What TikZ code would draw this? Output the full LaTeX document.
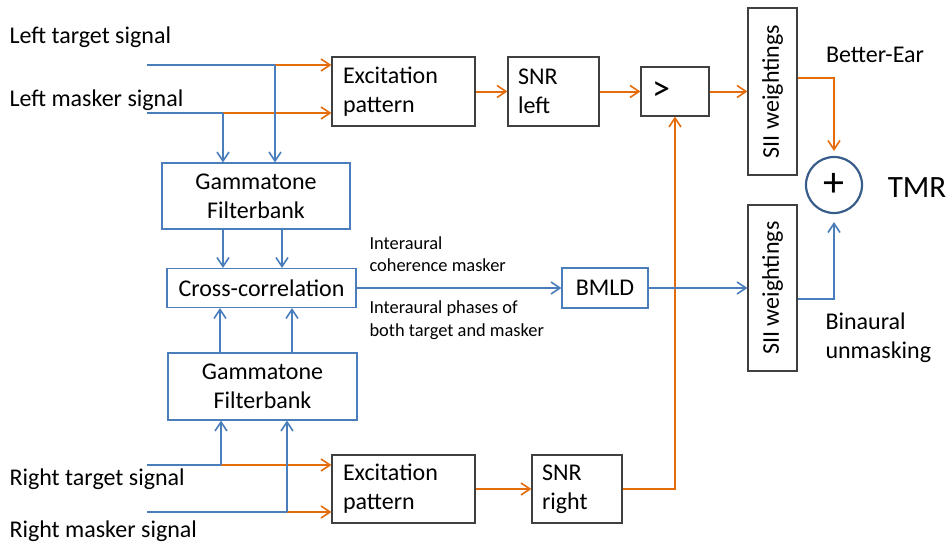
\documentclass[tikz,border=0pt]{standalone}
\usepackage{fontspec}
\setmainfont{Carlito}
\usepackage{tikz}
\usetikzlibrary{arrows.meta,calc}

\definecolor{lineblue}{HTML}{4A7EBB}
\definecolor{lineorange}{HTML}{E46C0A}
\definecolor{ringblue}{HTML}{385D8A}
\definecolor{boxgray}{HTML}{404040}

\newcommand{\bigtxt}{\fontsize{24}{29}\selectfont}
\newcommand{\smalltxt}{\fontsize{18.4}{22.5}\selectfont}

\tikzset{
	graybox/.style={draw=boxgray, line width=1.2pt, inner sep=0pt, font=\bigtxt},
	bluebox/.style={draw=lineblue, line width=1.2pt, inner sep=0pt, font=\bigtxt, align=center},
	sig/.style={draw=lineblue, line width=2pt},
	ora/.style={draw=lineorange, line width=2pt},
	>={Straight Barb[length=9pt,width=12pt,line width=1.6pt]}
}

\begin{document}
\begin{tikzpicture}[x=1pt, y=-1pt]
		\useasboundingbox (0,0) rectangle (948,544);

		% input labels
		\node[anchor=west, font=\bigtxt] (ltlabel) at (6,37) {Left target signal};
		\node[anchor=west, font=\bigtxt] (lmlabel) at (6,100) {Left masker signal};
		\node[anchor=west, font=\bigtxt] (rtlabel) at (6,479) {Right target signal};
		\node[anchor=west, font=\bigtxt] (rmlabel) at (6,531) {Right masker signal};

		% left ear path
		\node[graybox, text width=121pt, inner xsep=11pt, minimum height=69pt, align=left] (exc1) at (403.5,91.5) {Excitation\\pattern};
		\node[graybox, text width=71pt, inner xsep=10pt, minimum height=69pt, align=left] (snrl) at (553.5,91.5) {SNR\\left};
		\node[graybox, text width=46pt, inner xsep=11pt, minimum height=49pt, align=left, font=\fontsize{36}{36}\selectfont] (gt) at (675,91.5) {>};

		% right ear path
		\node[graybox, text width=121pt, inner xsep=11pt, minimum height=68pt, align=left] (exc2) at (403.5,489) {Excitation\\pattern};
		\node[graybox, text width=70pt, inner xsep=10pt, minimum height=68pt, align=left] (snrr) at (577,489) {SNR\\right};

		% binaural path
		\node[bluebox, minimum width=188pt, minimum height=66pt] (gam1) at (256,196) {Gammatone\\Filterbank};
		\node[bluebox, minimum width=189pt, minimum height=39pt] (cc) at (261.5,288) {Cross-correlation};
		\node[bluebox, minimum width=189pt, minimum height=67pt] (gam2) at (262.5,386.5) {Gammatone\\Filterbank};
		\node[bluebox, minimum width=86pt, minimum height=40pt] (bmld) at (605,288) {BMLD};

		% weightings and sum (rotated: north is the left side)
		\node[graybox, rotate=90, minimum width=167pt, minimum height=49pt] (sii1) at (772.5,91.5) {SII weightings};
		\node[graybox, rotate=90, minimum width=166pt, minimum height=49pt] (sii2) at (772.5,288) {SII weightings};
		\node[circle, draw=ringblue, line width=2.2pt, minimum size=56pt, inner sep=0pt] (sum) at (834,185) {\fontsize{42}{42}\selectfont +};
		\node[font=\fontsize{31}{31}\selectfont] (tmr) at (917,188) {TMR};
		\node[font=\bigtxt] (belabel) at (875,55) {Better-Ear};
		\node[font=\bigtxt, anchor=west, align=left] (bulabel) at (822,338) {Binaural\\unmasking};

		% comments on the cross-correlation output
		\node[font=\smalltxt, anchor=west, align=left] (cohlabel) at (366,254) {Interaural\\coherence masker};
		\node[font=\smalltxt, anchor=west, align=left] (phlabel) at (366,320) {Interaural phases of\\both target and masker};

		% left inputs
		\coordinate (lt) at (147,65);
		\coordinate (ltb) at (275,65);
		\coordinate (lm) at (147,113);
		\coordinate (lmb) at (223,113);
		\draw[ora,->] (ltb) -- (ltb -| exc1.west);
		\draw[ora,->] (lmb) -- (lmb -| exc1.west);
		\draw[sig] (lt) -- (ltb);
		\draw[sig] (lm) -- (lmb);
		\draw[sig,->] (ltb) -- (ltb |- gam1.north);
		\draw[sig,->] (lmb) -- (lmb |- gam1.north);

		% right inputs
		\coordinate (rt) at (147,465);
		\coordinate (rtb) at (221,465);
		\coordinate (rm) at (147,512);
		\coordinate (rmb) at (287,512);
		\draw[ora,->] (rtb) -- (rtb -| exc2.west);
		\draw[ora,->] (rmb) -- (rmb -| exc2.west);
		\draw[sig] (rt) -- (rtb);
		\draw[sig] (rm) -- (rmb);
		\draw[sig,->] (rtb) -- (rtb |- gam2.south);
		\draw[sig,->] (rmb) -- (rmb |- gam2.south);

		% filterbanks into cross-correlation
		\draw[sig,->] ([xshift=-33pt]gam1.south) -- ([xshift=-33pt]gam1.south |- cc.north);
		\draw[sig,->] ([xshift=26pt]gam1.south) -- ([xshift=26pt]gam1.south |- cc.north);
		\draw[sig,->] ([xshift=-42.5pt]gam2.north) -- ([xshift=-42.5pt]gam2.north |- cc.south);
		\draw[sig,->] ([xshift=29.5pt]gam2.north) -- ([xshift=29.5pt]gam2.north |- cc.south);

		% better-ear chain
		\draw[ora,->] (exc1) -- (snrl);
		\draw[ora,->] (snrl) -- (gt);
		\draw[ora,->] (exc2) -- (snrr);
		\draw[ora,->] (snrr.east) -| (gt.south);
		\draw[ora,->] (gt) -- (sii1.north);
		\draw[ora,->, shorten >=5pt] ([yshift=13.5pt]sii1.south) -| (sum.north);

		% binaural chain
		\draw[sig,->] (cc) -- (bmld);
		\draw[sig,->] (bmld) -- (sii2.north);
		\draw[sig,->, shorten >=8pt] ([yshift=-11pt]sii2.south) -| (sum.south);
	\end{tikzpicture}
\end{document}
